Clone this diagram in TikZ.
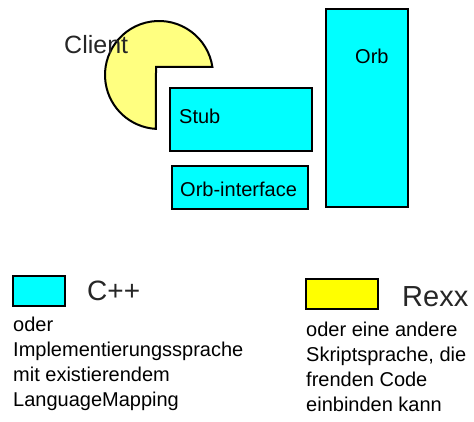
\documentclass[tikz,border=0pt]{standalone}
\usepackage{fontspec}
\setmainfont{Liberation Sans}
\newfontfamily\boxfont{Liberation Sans}
\definecolor{cppcyan}{RGB}{0,255,255}
\definecolor{clientyellow}{RGB}{255,255,128}
\definecolor{rexxyellow}{RGB}{255,255,0}
\begin{document}
\begin{tikzpicture}[x=1pt,y=1pt,
  comp/.style={draw=black,line width=2pt,fill=cppcyan},
  boxlabel/.style={inner sep=0pt,anchor=west,font=\boxfont\fontsize{20}{22}\selectfont},
  thinlabel/.style={inner sep=0pt,anchor=west,text=black!85},
  swatch/.style={draw=black,line width=1.5pt},
  note/.style={inner sep=0pt,anchor=base west,align=left,font=\boxfont\fontsize{20}{25}\selectfont}]
\useasboundingbox (0,0) rectangle (474,422);

% client: pie with the lower-right quarter cut out
\draw[line width=2pt,fill=clientyellow]
  (156,355) -- (212.4,355) arc[start angle=8.5,end angle=266.8,radius=54] -- cycle;
\node[thinlabel,font=\fontsize{25}{28}\selectfont] (client) at (64,377) {Client};

% components
\draw[comp] (170,271) rectangle (312,334);
\node[boxlabel] (stub) at (179,306) {Stub};
\draw[comp] (172,213) rectangle (308,256);
\node[boxlabel] (orbif) at (180,233) {Orb-interface};
\draw[comp] (326,215) rectangle (408,413);
\node[boxlabel] (orb) at (355,366) {Orb};

% legend
\draw[swatch,fill=cppcyan] (13,116) rectangle (65,146);
\node[thinlabel,font=\fontsize{28}{30}\selectfont] (cpp) at (87,131) {C++};
\draw[swatch,fill=rexxyellow] (306,113) rectangle (378,143);
\node[thinlabel,font=\fontsize{29}{31}\selectfont] (rexx) at (402,125.5) {Rexx};

% notes, anchored at the baseline of their last line
\node[note] (cppnote) at (13,15)
  {oder\\Implementierungssprache\\mit existierendem\\LanguageMapping};
\node[note] (rexxnote) at (306,10)
  {oder eine andere\\Skriptsprache, die\\frenden Code\\einbinden kann};
\end{tikzpicture}
\end{document}
